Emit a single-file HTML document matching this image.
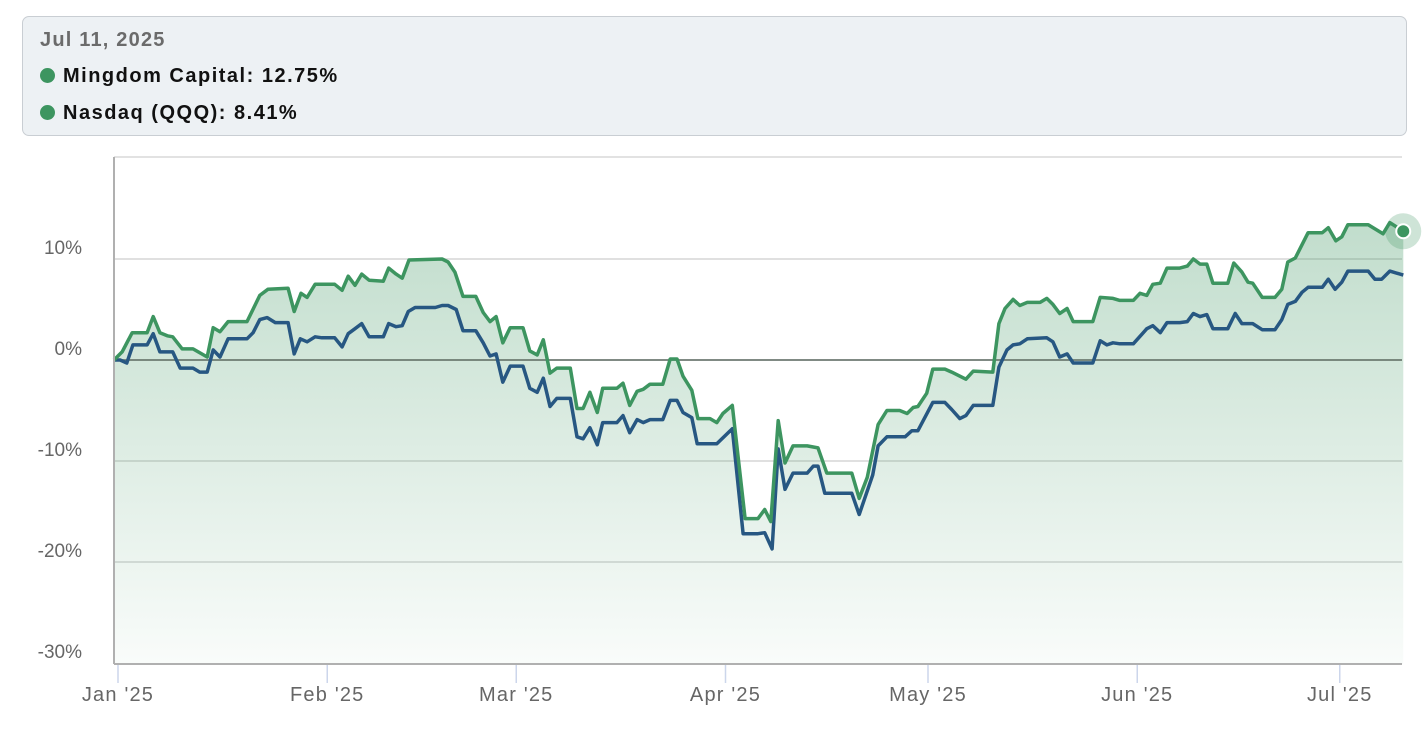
<!DOCTYPE html>
<html><head><meta charset="utf-8">
<style>
html,body{margin:0;padding:0;background:#fff;width:1426px;height:740px;overflow:hidden;font-family:"Liberation Sans",sans-serif;}
#tip{position:absolute;left:22px;top:16px;width:1385px;height:120px;background:#edf1f4;border:1.5px solid #c9ced3;border-radius:7px;box-sizing:border-box;}
.t{position:absolute;left:17px;font-weight:bold;font-size:20px;letter-spacing:1.5px;color:#111;}
.dot{display:inline-block;width:15px;height:15px;border-radius:50%;background:#3d9560;margin-right:8px;vertical-align:-1px;}
</style></head><body>
<div id="tip">
 <div class="t" style="top:12px;color:#6b6b6b;letter-spacing:1.2px">Jul 11, 2025</div>
 <div class="t" style="top:48px"><span class="dot"></span>Mingdom Capital: 12.75%</div>
 <div class="t" style="top:85px"><span class="dot"></span>Nasdaq (QQQ): 8.41%</div>
</div>
<svg id="chart" width="1426" height="740" style="position:absolute;left:0;top:0">
<defs><linearGradient id="gf" x1="0" y1="0" x2="0" y2="1"><stop offset="0" stop-color="#3d9560" stop-opacity="0.32"/><stop offset="1" stop-color="#3d9560" stop-opacity="0.03"/></linearGradient></defs>
</svg>
<script>
const greenDays=[0,1.2,2.7,4.9,5.8,6.8,7.9,8.7,10.1,11.7,13.8,14.7,15.7,16.9,19.7,21.6,22.8,25.8,26.7,27.7,28.6,29.8,32.7,33.8,34.7,35.7,36.7,37.8,39.9,40.7,41.8,42.7,43.7,48.6,49.5,50.5,51.7,53.6,54.7,55.7,56.6,57.6,58.7,60.6,61.6,62.7,63.6,64.6,65.6,67.6,68.6,69.5,70.5,71.6,72.4,74.5,75.4,76.4,77.5,78.4,79.4,81.3,82.4,83.4,84.3,85.6,86.5,88.3,89.3,90.2,91.6,93.5,95.4,96.4,97.3,98.4,99.4,100.6,102.7,104.3,105.6,109.3,110.4,111.6,113.2,114.5,116.4,117.5,118.4,119.1,120.4,121.3,123.1,124.1,126.2,127.3,130.2,131.1,132.0,133.2,134.2,135.3,137.2,138.2,139.1,140.1,141.2,142.1,145.0,146.1,148.0,149.0,151.0,152.0,153.0,153.9,155.0,156.0,157.9,159.0,159.9,160.9,161.9,162.8,165.0,165.9,167.1,168.0,168.7,170.1,172.0,173.0,173.9,175.0,176.9,179.0,179.9,181.0,181.9,182.8,185.8,188.0,189.0,191.0];
const greenVals=[0,0.8,2.7,2.7,4.3,2.7,2.4,2.3,1.1,1.1,0.3,3.2,2.8,3.8,3.8,6.4,7.0,7.1,4.8,6.6,6.2,7.5,7.5,6.9,8.3,7.4,8.5,7.9,7.8,9.1,8.5,8.1,9.9,10.0,9.7,8.7,6.3,6.3,4.7,3.8,4.3,1.7,3.2,3.2,0.9,0.5,2.0,-1.3,-0.8,-0.8,-4.8,-4.8,-3.2,-5.2,-2.8,-2.8,-2.3,-4.5,-3.1,-2.9,-2.4,-2.4,0.1,0.1,-1.6,-3.0,-5.8,-5.8,-6.2,-5.3,-4.5,-15.7,-15.7,-14.8,-16.0,-6.0,-10.2,-8.5,-8.5,-8.7,-11.2,-11.2,-13.7,-11.6,-6.4,-5.0,-5.0,-5.3,-4.7,-4.6,-3.3,-0.9,-0.9,-1.2,-1.9,-1.1,-1.2,3.6,5.1,6.0,5.4,5.7,5.7,6.1,5.5,4.6,5.1,3.8,3.8,6.2,6.1,5.9,5.9,6.6,6.4,7.5,7.6,9.1,9.1,9.3,10.0,9.5,9.5,7.6,7.6,9.6,8.7,7.7,7.6,6.2,6.2,7.0,9.7,10.1,12.6,12.6,13.1,11.8,12.2,13.4,13.4,12.5,13.6,12.75];
const blueDays=[0,0.9,1.9,2.8,4.9,5.8,6.8,8.7,9.8,11.7,12.7,13.8,14.7,15.7,16.9,19.7,20.6,21.6,22.7,23.9,25.8,26.7,27.6,28.6,29.8,30.8,32.7,33.8,34.7,35.7,36.7,37.8,39.9,40.7,41.8,42.7,43.6,44.6,47.6,48.6,49.5,50.7,51.7,53.6,54.7,55.7,56.6,57.6,58.7,60.6,61.6,62.7,63.6,64.6,65.6,67.6,68.6,69.5,70.5,71.6,72.4,74.5,75.4,76.4,77.5,78.4,79.4,81.3,82.4,83.4,84.3,85.6,86.4,89.3,91.6,93.2,95.4,96.4,97.5,98.4,99.4,100.6,102.7,103.6,104.3,105.3,109.3,110.4,112.4,113.2,114.5,117.2,118.2,119.1,121.3,123.1,124.1,125.3,126.2,127.3,130.2,131.1,132.3,133.2,134.2,135.3,138.2,139.1,140.1,141.2,142.1,145.0,146.1,147.1,148.0,149.0,151.0,153.0,153.9,155.0,156.0,157.9,159.0,159.9,160.9,161.9,162.8,165.0,166.1,167.1,168.7,170.1,172.0,173.0,173.9,175.0,176.0,176.9,179.0,179.9,180.9,181.9,182.8,185.8,186.8,187.8,189.0,191.0];
const blueVals=[0,0,-0.3,1.5,1.5,2.6,0.8,0.8,-0.8,-0.8,-1.2,-1.2,1.0,0.3,2.1,2.1,2.7,4.0,4.2,3.7,3.7,0.6,2.1,1.8,2.3,2.2,2.2,1.3,2.6,3.1,3.6,2.3,2.3,3.6,3.3,3.4,4.8,5.2,5.2,5.4,5.4,5.0,2.9,2.9,1.7,0.4,0.6,-2.2,-0.6,-0.6,-2.8,-3.2,-1.8,-4.6,-3.8,-3.8,-7.6,-7.8,-6.7,-8.4,-6.2,-6.2,-5.5,-7.2,-5.9,-6.2,-5.9,-5.9,-4.0,-4.0,-5.2,-5.7,-8.3,-8.3,-6.8,-17.2,-17.2,-17.1,-18.7,-8.8,-12.8,-11.2,-11.2,-10.5,-10.5,-13.2,-13.2,-15.3,-11.4,-8.5,-7.6,-7.6,-7.0,-7.0,-4.2,-4.2,-4.9,-5.8,-5.5,-4.5,-4.5,-0.7,1.0,1.5,1.6,2.1,2.2,1.8,0.3,0.6,-0.3,-0.3,1.9,1.5,1.7,1.6,1.6,3.1,3.4,2.7,3.7,3.7,3.8,4.6,4.3,4.5,3.1,3.1,4.6,3.6,3.6,3.0,3.0,4.0,5.5,5.8,6.7,7.2,7.2,8.0,7.0,7.7,8.8,8.8,8.0,8.0,8.8,8.41];
const yTicks=[10,0,-10,-20,-30];
const yTickLabels=['10%','0%','-10%','-20%','-30%'];
const monthDays=[0,31,59,90,120,151,181];
const monthLabels=["Jan '25","Feb '25","Mar '25","Apr '25","May '25","Jun '25","Jul '25"];

const NS='http://www.w3.org/2000/svg';
const svg=document.getElementById('chart');
const X0=114,DX=6.75,L=114,R=1402,T=157,B=664;
const x=d=>X0+d*DX;
const y=v=>360-v*10.1;
function mk(tag,attrs){const e=document.createElementNS(NS,tag);for(const k in attrs)e.setAttribute(k,attrs[k]);svg.appendChild(e);return e;}

let e=mk('line',{x1:L,x2:R,y1:T,y2:T,stroke:'#d8d8d8','stroke-width':1.5});


yTicks.forEach((v,i)=>{
  if(v!==-30){
    const g=mk('line',{x1:L,x2:R,y1:y(v),y2:y(v),stroke:v===0?'#6e7a72':'#d6d6d6','stroke-width':1.5});
    
    
  }
  const t=mk('text',{x:82,y:y(v)-5,'text-anchor':'end','font-size':19,fill:'#666','font-family':'Liberation Sans, sans-serif'});
  t.textContent=yTickLabels[i];
  
  
});
let p='M'+x(greenDays[0])+','+B;
greenDays.forEach((d,i)=>{p+=' L'+x(d).toFixed(1)+','+y(greenVals[i]).toFixed(1);});
p+=' L'+x(greenDays[greenDays.length-1])+','+B+' Z';
e=mk('path',{d:p,fill:'url(#gf)'});


e=mk('line',{x1:L,x2:R,y1:y(0),y2:y(0),stroke:'#6e7a72','stroke-width':1.5});


function line(days,vals,col,name){
  const pts=days.map((d,i)=>x(d).toFixed(1)+','+y(vals[i]).toFixed(1)).join(' ');
  const l=mk('polyline',{points:pts,fill:'none',stroke:col,'stroke-width':3.5,'stroke-linejoin':'round'});
  
  
}
line(blueDays,blueVals,'#275782','nasdaq-line');
line(greenDays,greenVals,'#3d9560','mingdom-line');
e=mk('line',{x1:L,x2:L,y1:T,y2:B,stroke:'#b0b0b0','stroke-width':2});


e=mk('line',{x1:L,x2:R,y1:B,y2:B,stroke:'#b0b0b0','stroke-width':2});


monthDays.forEach((d,i)=>{
  const tx=x(d)+4;
  const tk=mk('line',{x1:tx,x2:tx,y1:B+1,y2:B+19,stroke:'#ccd6eb','stroke-width':1.5});
  
  
  const t=mk('text',{x:tx,y:701,'text-anchor':'middle','font-size':20,'letter-spacing':1.2,fill:'#666','font-family':'Liberation Sans, sans-serif'});
  t.textContent=monthLabels[i];
  
  
});
const ld=greenDays[greenDays.length-1],lv=greenVals[greenVals.length-1];
e=mk('circle',{cx:x(ld),cy:y(lv),r:18,fill:'#3d9560','fill-opacity':0.25});


e=mk('circle',{cx:x(ld),cy:y(lv),r:7,fill:'#3d9560',stroke:'#fff','stroke-width':2});


</script>
</body></html>
